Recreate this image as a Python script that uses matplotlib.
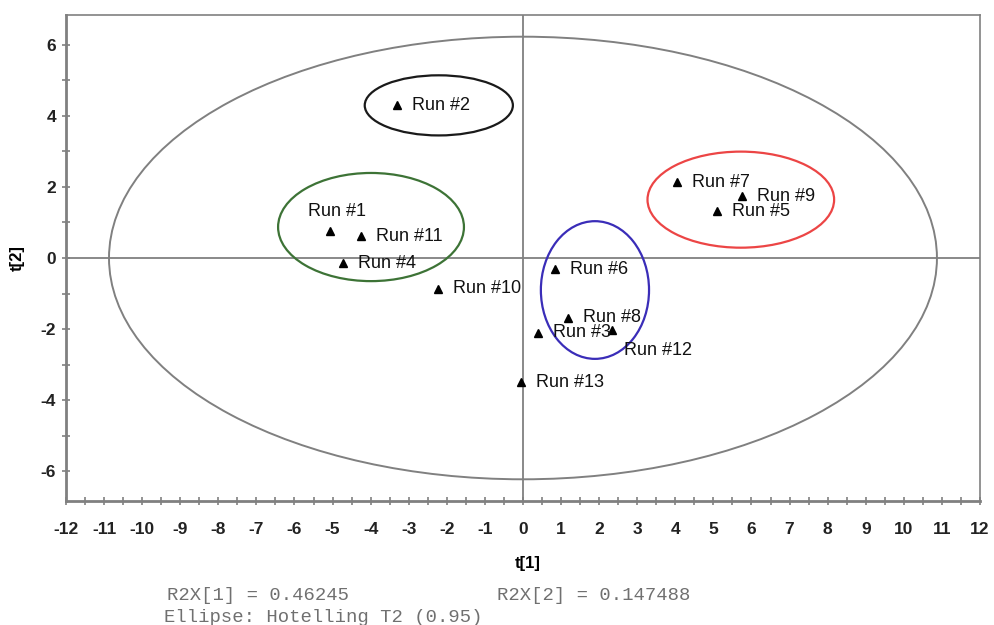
import matplotlib
matplotlib.use("Agg")
import matplotlib.pyplot as plt
from matplotlib.patches import Ellipse
from matplotlib.ticker import MultipleLocator

plt.rcParams["axes.unicode_minus"] = False

# score values for each run
runs = ["Run #1", "Run #2", "Run #3", "Run #4", "Run #5", "Run #6", "Run #7",
        "Run #8", "Run #9", "Run #10", "Run #11", "Run #12", "Run #13"]
t1 = [-5.07, -3.3, 0.40, -4.72, 5.09, 0.84, 4.04, 1.19, 5.74, -2.22, -4.26, 2.35, -0.05]
t2 = [0.75, 4.3, -2.10, -0.15, 1.32, -0.32, 2.13, -1.68, 1.74, -0.87, 0.61, -2.03, -3.49]

# label offsets in pixels (most labels sit to the right of the marker)
label_offsets = {"Run #1": (-22, 20), "Run #12": (12, -20)}

# hotelling T2 ellipse half-axes
t2_a, t2_b = 10.87, 6.22

# group ellipses: centre x, centre y, width, height, colour
grp_x = [-2.21, -3.99, 1.89, 5.72]
grp_y = [4.29, 0.87, -0.90, 1.64]
grp_w = [3.89, 4.88, 2.84, 4.90]
grp_h = [1.69, 3.04, 3.87, 2.70]
grp_col = ["#1a1a1a", "#3d7336", "#3a2db8", "#ec4545"]

r2x_1 = 0.46245
r2x_2 = 0.147488

fig = plt.figure(figsize=(9.95, 6.25), dpi=100)
ax = fig.add_axes([0.0663, 0.1984, 0.9186, 0.7776])

ax.set_xlim(-12, 12)
ax.set_ylim(-6.83, 6.83)

gray = "#808080"
ax.axhline(0, color=gray, lw=1.3, zorder=1)
ax.axvline(0, color=gray, lw=1.3, zorder=1)

ax.add_patch(Ellipse((0, 0), 2 * t2_a, 2 * t2_b, fill=False, ec=gray, lw=1.4))
for cx, cy, w, h, c in zip(grp_x, grp_y, grp_w, grp_h, grp_col):
    ax.add_patch(Ellipse((cx, cy), w, h, fill=False, ec=c, lw=1.6))

ax.plot(t1, t2, "^", color="black", ms=6, ls="none", zorder=3)
for name, x, y in zip(runs, t1, t2):
    dx, dy = label_offsets.get(name, (15, 0))
    ax.annotate(name, (x, y), xytext=(dx, dy), textcoords="offset pixels",
                ha="left", va="center", fontsize=13, family="Liberation Sans",
                color="#111111")

for s in ax.spines.values():
    s.set_color(gray)
    s.set_linewidth(1.2)
ax.spines["left"].set_linewidth(2)
ax.spines["bottom"].set_linewidth(2)

ax.xaxis.set_major_locator(MultipleLocator(1))
ax.xaxis.set_minor_locator(MultipleLocator(0.5))
ax.yaxis.set_major_locator(MultipleLocator(2))
ax.yaxis.set_minor_locator(MultipleLocator(1))
ax.tick_params(which="both", direction="inout", color=gray, width=1.2)
ax.tick_params(which="major", length=6)
ax.tick_params(which="minor", length=6)
ax.tick_params(axis="x", pad=12)
ax.tick_params(axis="y", pad=4)
for lab in ax.get_xticklabels() + ax.get_yticklabels():
    lab.set_fontweight("bold")
    lab.set_fontsize(12.5)
    lab.set_family("Liberation Sans")
    lab.set_color("#222222")

ax.set_xlabel("t[1]", fontsize=12, fontweight="bold", family="Liberation Sans")
ax.xaxis.set_label_coords(0.5055, -0.113)
ax.set_ylabel("t[2]", fontsize=12, fontweight="bold", family="Liberation Sans")
ax.yaxis.set_label_coords(-0.0455, 0.5)

foot = dict(fontsize=13.6, family="Liberation Mono", color="#707070", va="center")
fig.text(0.168, 1 - 595 / 625, "R2X[1] = %.5f" % r2x_1, **foot)
fig.text(0.499, 1 - 595 / 625, "R2X[2] = %s" % r2x_2, **foot)
fig.text(0.165, 1 - 618 / 625, "Ellipse: Hotelling T2 (0.95)", **foot)

fig.savefig("out.png", dpi=100)
